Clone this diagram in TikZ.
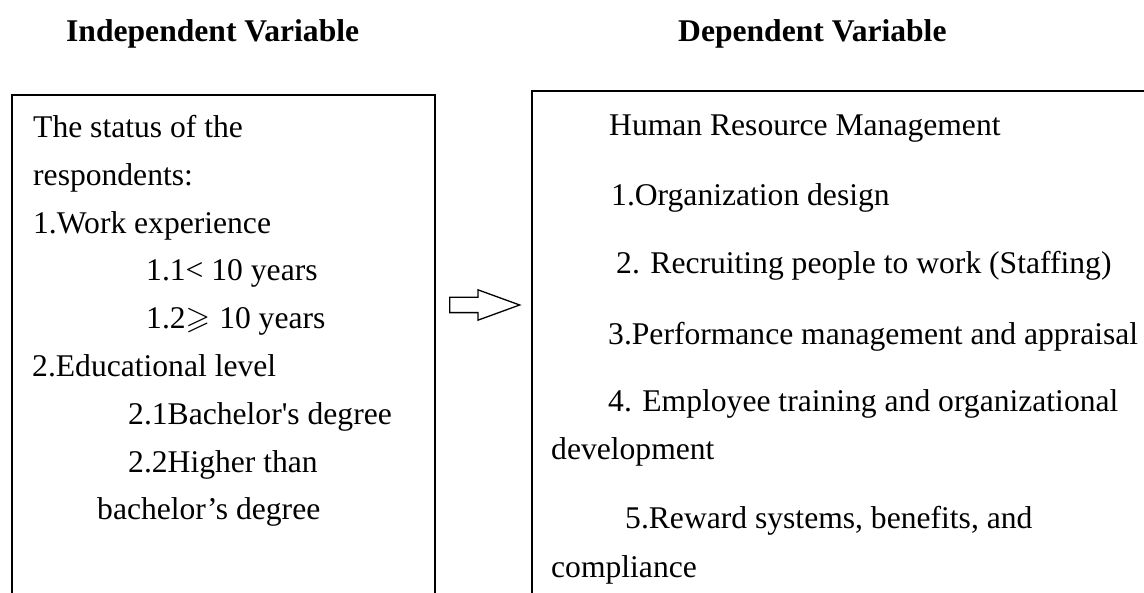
\documentclass[tikz,border=0pt]{standalone}
\usepackage{fontspec}
\usepackage{amssymb}
\usetikzlibrary{shapes.arrows}
% Times-like serif without TeX quote mapping, so ' stays straight
\newfontfamily\tnr{Liberation Serif}
\begin{document}
\begin{tikzpicture}[x=1pt,y=-1pt,
  txt/.style={anchor=base west, inner sep=0pt, font=\tnr\fontsize{31.6}{38}\selectfont},
  ttl/.style={anchor=base west, inner sep=0pt, font=\tnr\bfseries\fontsize{31.6}{38}\selectfont},
  panel/.style={draw, line width=1.8pt, anchor=north west, inner sep=0pt},
  flowarrow/.style={single arrow, draw, line width=1.3pt, fill=white,
    minimum height=70pt, inner sep=7pt, single arrow head extend=7.5pt,
    single arrow tip angle=40, anchor=tail}]
\useasboundingbox (0,0) rectangle (1144,593);
\clip (0,0) rectangle (1144,593);

% headings
\node[ttl] (ivtitle) at (66,42) {Independent Variable};
\node[ttl] (dvtitle) at (678,42) {Dependent Variable};

% the two panels, running off the bottom and right edges
\node[panel, minimum width=423pt, minimum height=560pt] (ivbox) at (11,94) {};
\node[panel, minimum width=640pt, minimum height=560pt] (dvbox) at (531,90) {};

% block arrow between the panels
\node[flowarrow] (flow) at (449,305) {};

% independent variable panel
\node[txt] (l1) at (33,138) {The status of the};
\node[txt] (l2) at (33,186) {respondents:};
\node[txt] (l3) at (33,234) {1.Work experience};
\node[txt] (l4) at (146,281) {1.1< 10 years};
\node[txt] (l5) at (146,329) {1.2$\geqslant$\hspace{9pt}10 years};
\node[txt] (l6) at (32,377) {2.Educational level};
\node[txt] (l7) at (128,425) {2.1Bachelor's degree};
\node[txt] (l8) at (128,473) {2.2Higher than};
\node[txt] (l9) at (97,520) {bachelor’s degree};

% dependent variable panel
\node[txt] (r0) at (609,136) {Human Resource Management};
\node[txt] (r1) at (611,206) {1.Organization design};
\node[txt] (r2) at (616,274) {2. Recruiting people to work (Staffing)};
\node[txt] (r3) at (608,345) {3.Performance management and appraisal};
\node[txt] (r4) at (608,412) {4. Employee training and organizational};
\node[txt] (r4b) at (551,460) {development};
\node[txt] (r5) at (625,529) {5.Reward systems, benefits, and};
\node[txt] (r5b) at (551,577) {compliance};
\end{tikzpicture}
\end{document}
